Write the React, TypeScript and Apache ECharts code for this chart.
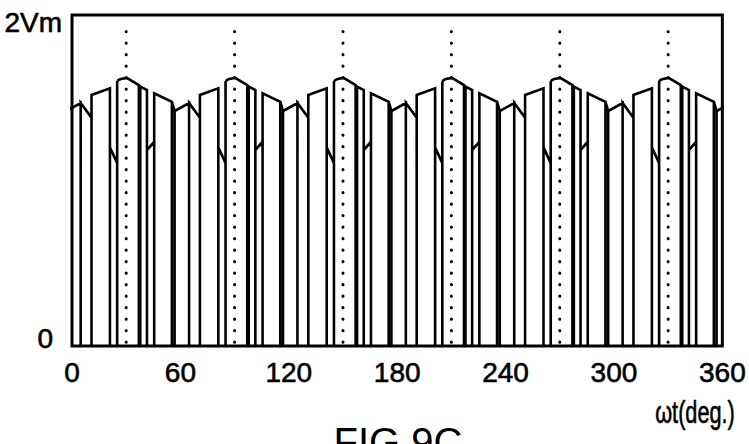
import React, { useEffect, useRef } from "react";
import * as echarts from "echarts";

// axis ticks
const xTicks = [0, 60, 120, 180, 240, 300, 360];
const yMin = 0;
const yMax = 2;
const yTickText: Record<string, string> = { "0": "0", "2": "2Vm" };
const xName = "ωt(deg.)";
const figTitle = "FIG.9C";

// start of each 60° sector (the waveform repeats per sector; 360 covers the wrap)
const periodStarts = [0, 60, 120, 180, 240, 300, 360];

// pulses within one sector: edge/top x positions (deg, relative to sector start)
const pulseEdges: number[][] = [
  [-3.2, 4.8],
  [4.8, 10.8],
  [10.8, 21],
  [21, 25],
  [25, 25.7, 27, 30.3, 37],
  [37.8, 41.5],
  [41.5, 45.5],
  [45.5, 55.3],
  [55.3, 56.8],
];
// top values (in Vm) matching pulseEdges
const pulseTops: number[][] = [
  [1.42, 1.468],
  [1.468, 1.38],
  [1.517, 1.557],
  [1.2, 1.105],
  [1.595, 1.607, 1.613, 1.62, 1.577],
  [1.567, 1.547],
  [1.184, 1.234],
  [1.527, 1.476],
  [1.476, 1.42],
];

// dotted reference lines at the peaks
const dottedAt = [30, 90, 150, 210, 270, 330];
const dottedTop = 1.9;

const FONT = "'Liberation Sans', Arial, sans-serif";

function buildWave(): number[][] {
  const pts: number[][] = [];
  for (const p of periodStarts) {
    pulseEdges.forEach((xs, i) => {
      const tops = pulseTops[i];
      pts.push([p + xs[0], 0]);
      xs.forEach((x, j) => pts.push([p + x, tops[j]]));
      pts.push([p + xs[xs.length - 1], 0]);
    });
  }
  return pts;
}

export default function App() {
  const ref = useRef<HTMLDivElement>(null);
  useEffect(() => {
    if (!ref.current) return;
    const chart = echarts.init(ref.current, undefined, { renderer: "svg" });
    const dottedSeries = dottedAt.map((x) => ({
      type: "line",
      data: [
        [x, dottedTop],
        [x, 0],
      ],
      showSymbol: false,
      silent: true,
      lineStyle: { color: "#000", width: 3, type: [0.1, 11.4], cap: "round" },
      z: 3,
    }));
    chart.setOption({
      animation: false,
      backgroundColor: "#fff",
      grid: {
        left: 72,
        right: 22,
        top: 15,
        bottom: 98,
        show: true,
        borderColor: "#000",
        borderWidth: 3,
        backgroundColor: "transparent",
      },
      xAxis: {
        type: "value",
        min: xTicks[0],
        max: xTicks[xTicks.length - 1],
        interval: 60,
        axisLine: { show: false },
        axisTick: { show: false },
        splitLine: { show: false },
        axisLabel: {
          color: "#000",
          fontSize: 28,
          fontFamily: FONT,
          margin: 12,
          lineHeight: 28,
          textBorderColor: "#000",
          textBorderWidth: 0.6,
          formatter: (v: number) => (xTicks.includes(v) ? String(v) : ""),
        },
      },
      yAxis: {
        type: "value",
        min: yMin,
        max: yMax,
        interval: 2,
        axisLine: { show: false },
        axisTick: { show: false },
        splitLine: { show: false },
        axisLabel: {
          color: "#000",
          fontSize: 28,
          fontFamily: FONT,
          margin: 10,
          formatter: (v: number) =>
            v === yMax ? "{t|" + yTickText[String(v)] + "}" : "{b|" + yTickText[String(v)] + "}",
          rich: {
            t: {
              fontSize: 28,
              fontFamily: FONT,
              color: "#000",
              padding: [14, 0, 0, 0],
              textBorderColor: "#000",
              textBorderWidth: 0.6,
            },
            b: {
              fontSize: 28,
              fontFamily: FONT,
              color: "#000",
              padding: [0, 9, 16, 0],
              textBorderColor: "#000",
              textBorderWidth: 0.6,
            },
          },
        },
      },
      graphic: [
        {
          type: "text",
          x: 695,
          y: 413,
          scaleX: 0.7,
          style: {
            text: xName,
            x: 0,
            y: 0,
            align: "center",
            verticalAlign: "middle",
            textAlign: "center",
            textVerticalAlign: "middle",
            fontSize: 31,
            fontFamily: FONT,
            fill: "#000",
            stroke: "#000",
            lineWidth: 0.6,
          },
        },
        {
          type: "text",
          style: {
            text: figTitle,
            x: 398,
            y: 422,
            align: "center",
            verticalAlign: "top",
            textAlign: "center",
            textVerticalAlign: "top",
            fontSize: 40,
            fontFamily: FONT,
            fill: "#000",
          },
        },
      ],
      series: [
        {
          type: "line",
          data: buildWave(),
          showSymbol: false,
          silent: true,
          clip: true,
          lineStyle: { color: "#000", width: 2.6, join: "miter" },
          z: 4,
        },
        ...dottedSeries,
      ],
    });
    return () => chart.dispose();
  }, []);
  return (
    <div
      ref={ref}
      style={{ position: "fixed", left: 0, top: 0, width: 749, height: 444, background: "#fff" }}
    />
  );
}
